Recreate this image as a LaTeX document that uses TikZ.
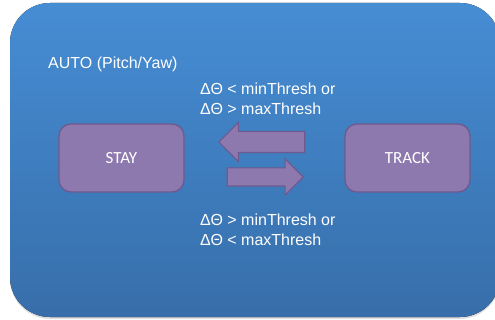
\documentclass[tikz,border=0pt]{standalone}
\usepackage{fontspec}
\setmainfont{Liberation Sans}
\newfontfamily\boxfont{Carlito}
\usetikzlibrary{shapes.arrows,shadows}
\definecolor{bgtop}{RGB}{70,141,212}
\definecolor{bgbot}{RGB}{55,110,170}
\definecolor{boxfill}{RGB}{142,121,174}
\definecolor{boxline}{RGB}{110,90,142}
\tikzset{
  statebox/.style={draw=boxline, line width=1.3pt, fill=boxfill, rounded corners=12pt,
    minimum width=125pt, minimum height=68pt, text=white, font=\boxfont\fontsize{17}{19}\selectfont},
  blockarrow/.style={shape=single arrow, draw=boxline, line width=1.1pt, fill=boxfill,
    single arrow head extend=9pt, single arrow tip angle=90, inner xsep=0pt, anchor=tip},
  cond/.style={anchor=north west, inner sep=0pt, align=left, text=white,
    font=\fontsize{16}{19.5}\selectfont}
}
\begin{document}
\begin{tikzpicture}[x=1pt,y=-1pt]
\useasboundingbox (0,0) rectangle (495,320);
\fill [rounded corners=40pt, top color=bgtop, bottom color=bgbot,
  drop shadow={opacity=0.25, shadow xshift=0pt, shadow yshift=-2pt}] (10,3) rectangle (500,317);

\node (A) at (48,56.5) [cond] {AUTO (Pitch/Yaw)};

\node (S) at (121.5,158) [statebox] {STAY};
\node (T) at (407.5,158) [statebox] {TRACK};

\node (L) at (218,142) [blockarrow, shape border rotate=180, minimum height=86pt, minimum width=38pt, inner ysep=10pt] {};
\node (R) at (304,177) [blockarrow, minimum height=76pt, minimum width=35pt, inner ysep=8.5pt] {};

\node (U) at (200,83) [cond] {ΔΘ < minThresh or\\ΔΘ > maxThresh};
\node (B) at (200,214) [cond] {ΔΘ > minThresh or\\ΔΘ < maxThresh};
\end{tikzpicture}
\end{document}
